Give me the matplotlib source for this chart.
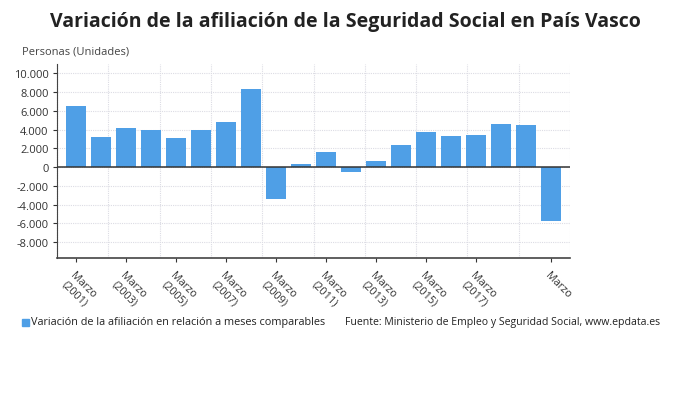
import numpy as np
import matplotlib.pyplot as plt

years = list(range(2001, 2021))
valores = [6500, 3200, 4200, 4000, 3100, 4000, 4800, 8300, -3400, 350,
           1650, -550, 640, 2370, 3780, 3320, 3460, 4630, 4450, -5760]
etiquetas = ["Marzo\n(%d)" % y for y in range(2001, 2018, 2)] + ["Marzo"]
pos_etiquetas = [years.index(y) for y in range(2001, 2018, 2)] + [years.index(2020)]
yticks = list(range(-8000, 10001, 2000))

plt.rcParams['font.family'] = ['Open Sans', 'DejaVu Sans']

fig = plt.figure(figsize=(6.9, 4.06), dpi=100)
ax = fig.add_axes([57/690, 1-259/406, 513/690, 194/406])

x = np.arange(len(valores))
ax.bar(x, valores, width=0.78, color='#4f9fe6', zorder=3)

xmin, xmax = -0.76, len(valores) - 1 + 0.76
ax.set_xlim(xmin, xmax)
ax.set_ylim(-9700, 11000)

for gx in np.linspace(xmin, xmax, 11)[1:]:
    ax.axvline(gx, color='#dcdce4', lw=0.8, ls=(0, (1, 1)), zorder=1)
for gy in yticks:
    ax.axhline(gy, color='#dcdce4', lw=0.8, ls=(0, (1, 1)), zorder=1)
ax.axhline(0, color='#333333', lw=1.1, zorder=4)

ax.set_yticks(yticks)
ax.set_yticklabels(["{:,}".format(v).replace(",", ".") for v in yticks],
                   fontsize=8, color='#333333')
ax.set_xticks(pos_etiquetas)
ax.set_xticklabels(etiquetas, rotation=-45, ha='left', va='top',
                   rotation_mode='anchor', fontsize=7.8, color='#333333',
                   multialignment='center')
ax.tick_params(axis='x', length=3, color='#333333', pad=5)
ax.tick_params(axis='y', length=3, color='#333333', pad=3)

for s in ['top', 'right']:
    ax.spines[s].set_visible(False)
ax.spines['left'].set_color('#444444')
ax.spines['left'].set_linestyle((0, (1, 0.6)))
ax.spines['bottom'].set_color('#444444')
ax.spines['bottom'].set_linewidth(1.2)

fig.text(0.5, 0.945, "Variación de la afiliación de la Seguridad Social en País Vasco",
         ha='center', va='center', fontsize=14, fontweight='bold', color='#222222')
fig.text(22/690, 1-52/406, "Personas (Unidades)", ha='left', va='center',
         fontsize=8, color='#444444')

fig.patches.append(plt.Rectangle((22/690, 1-327/406), 7/690, 7/406,
                                 transform=fig.transFigure, color='#4f9fe6'))
fig.text(31/690, 1-323/406, "Variación de la afiliación en relación a meses comparables",
         ha='left', va='center', fontsize=7.8, color='#222222')
fig.text(345/690, 1-323/406, "Fuente: Ministerio de Empleo y Seguridad Social, www.epdata.es",
         ha='left', va='center', fontsize=7.6, color='#222222')

fig.savefig("out.png", dpi=100)
